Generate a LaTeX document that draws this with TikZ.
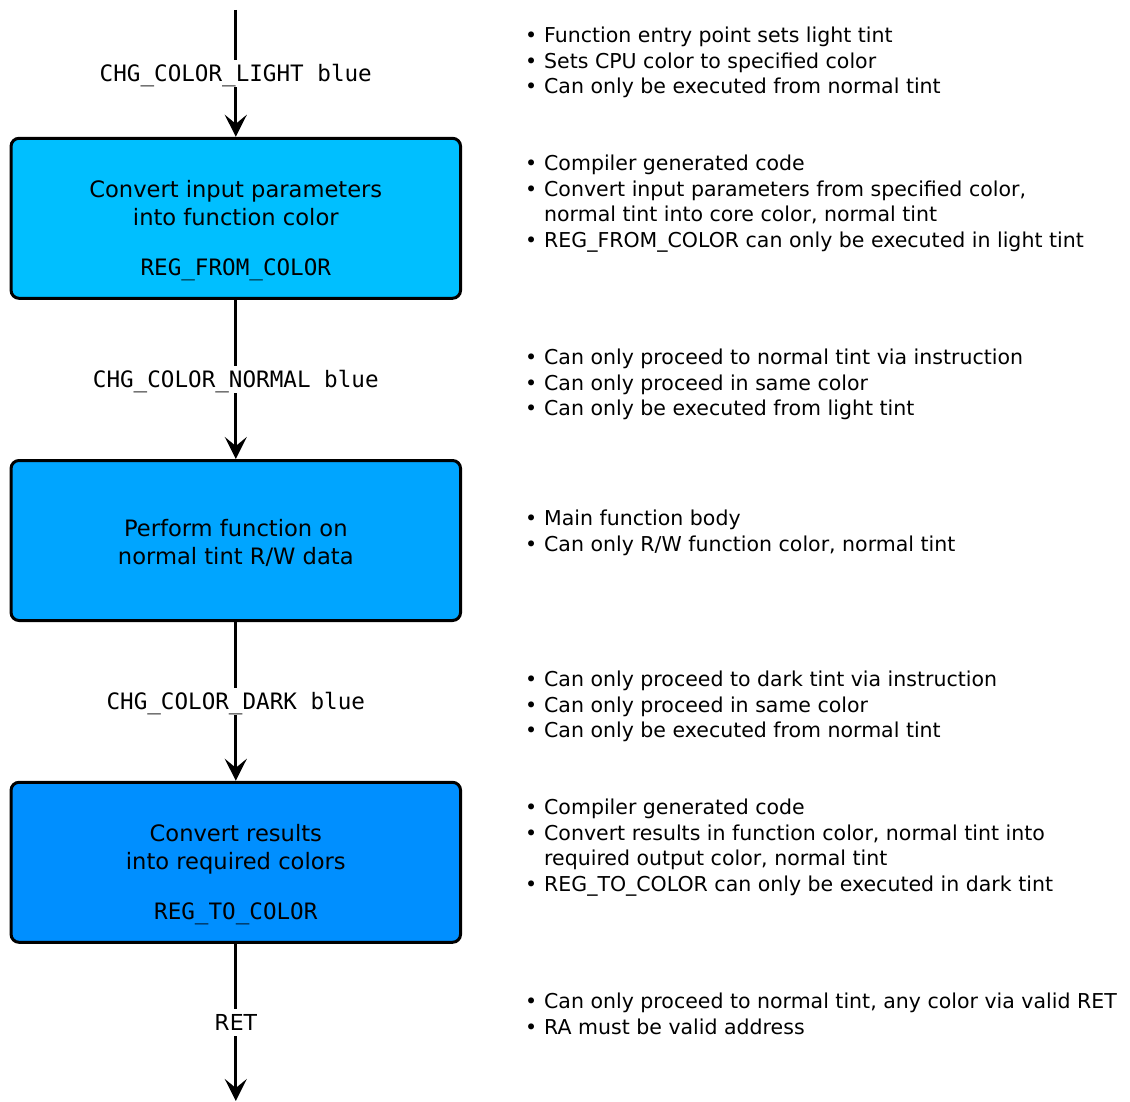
\documentclass[tikz,border=0pt]{standalone}
\usepackage{fontspec}
\setmainfont{DejaVu Sans}
\setmonofont{DejaVu Sans Mono}
\usetikzlibrary{arrows.meta}

\definecolor{tintlight}{RGB}{0,191,255}
\definecolor{tintnormal}{RGB}{0,165,255}
\definecolor{tintdark}{RGB}{0,143,255}

% bullet list helpers for the notes column
\newcommand{\itemdot}{\makebox[19pt][l]{\textbullet}}
\newcommand{\itemcont}{\hspace*{19pt}}
\newcommand{\notelines}[1]{\begin{tabular}[t]{@{}l@{}}#1\end{tabular}}
\newcommand{\boxlines}[1]{\begin{tabular}[t]{@{}c@{}}#1\end{tabular}}

\begin{document}
\begin{tikzpicture}[x=1pt,y=-1pt,
  stagebox/.style={draw=black, line width=3pt, rounded corners=8pt,
    minimum width=449.5pt, minimum height=160pt, inner sep=0pt},
  boxtext/.style={anchor=base, inner sep=0pt,
    font=\fontsize{22.6}{28.3}\selectfont},
  flow/.style={line width=3pt, -{Stealth[length=22pt,width=22pt,inset=9pt]}},
  lab/.style={fill=white, inner xsep=2pt, inner ysep=0pt,
    text height=21pt, text depth=5.3pt,
    font=\fontsize{22.6}{27}\selectfont\ttfamily},
  retlab/.style={lab, font=\fontsize{22}{27}\selectfont},
  note/.style={anchor=base west, inner sep=0pt,
    font=\fontsize{20.5}{25.5}\selectfont}]

\useasboundingbox (0,0) rectangle (1130,1102);

% pipeline stages
\node[stagebox, fill=tintlight]  (b1) at (235.8,218.3) {};
\node[stagebox, fill=tintnormal] (b2) at (235.8,540.5) {};
\node[stagebox, fill=tintdark]   (b3) at (235.8,862.3) {};

\node[boxtext] (t1) at (235.8,197.7) {\boxlines{Convert input parameters\\
  into function color\\[21.7pt] \texttt{REG\_FROM\_COLOR}}};
\node[boxtext] (t2) at (235.8,536) {\boxlines{Perform function on\\
  normal tint R/W data}};
\node[boxtext] (t3) at (235.8,841) {\boxlines{Convert results\\
  into required colors\\[21.7pt] \texttt{REG\_TO\_COLOR}}};

% entry and exit points
\coordinate (entry) at (235.8,10);
\coordinate (exit) at (235.8,1101);

% transitions
\draw[flow] (entry) -- node[lab] (l0) {CHG\_COLOR\_LIGHT blue} (b1);
\draw[flow] (b1) -- node[lab] (l1) {CHG\_COLOR\_NORMAL blue} (b2);
\draw[flow] (b2) -- node[lab] (l2) {CHG\_COLOR\_DARK blue} (b3);
\draw[flow] (b3) -- node[retlab] (l3) {RET} (exit);

% notes column
\node[note] (n0) at (525,43) {\notelines{%
  \itemdot Function entry point sets light tint\\
  \itemdot Sets CPU color to specified color\\
  \itemdot Can only be executed from normal tint}};
\node[note] (n1) at (525,171) {\notelines{%
  \itemdot Compiler generated code\\
  \itemdot Convert input parameters from specified color,\\
  \itemcont normal tint into core color, normal tint\\
  \itemdot REG\_FROM\_COLOR can only be executed in light tint}};
\node[note] (n2) at (525,364.5) {\notelines{%
  \itemdot Can only proceed to normal tint via instruction\\
  \itemdot Can only proceed in same color\\
  \itemdot Can only be executed from light tint}};
\node[note] (n3) at (525,525.5) {\notelines{%
  \itemdot Main function body\\
  \itemdot Can only R/W function color, normal tint}};
\node[note] (n4) at (525,686.5) {\notelines{%
  \itemdot Can only proceed to dark tint via instruction\\
  \itemdot Can only proceed in same color\\
  \itemdot Can only be executed from normal tint}};
\node[note] (n5) at (525,814.5) {\notelines{%
  \itemdot Compiler generated code\\
  \itemdot Convert results in function color, normal tint into\\
  \itemcont required output color, normal tint\\
  \itemdot REG\_TO\_COLOR can only be executed in dark tint}};
\node[note] (n6) at (525,1008.5) {\notelines{%
  \itemdot Can only proceed to normal tint, any color via valid RET\\
  \itemdot RA must be valid address}};

\end{tikzpicture}
\end{document}
